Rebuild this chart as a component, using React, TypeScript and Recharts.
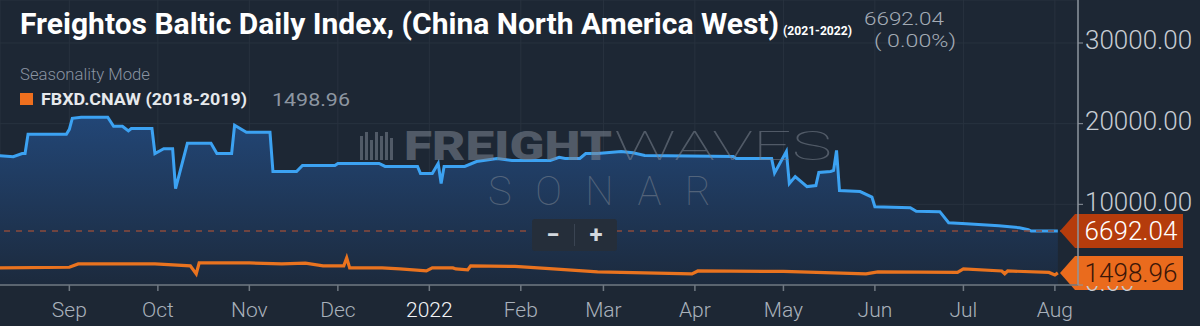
// Freightos Baltic Daily Index (China - North America West), seasonality view
import React from 'react';
import {
  ComposedChart,
  Area,
  Line,
  XAxis,
  YAxis,
  CartesianGrid,
  ReferenceLine,
} from 'recharts';

// 2021-2022 series (blue area)
const currentDates = [
  '2021-08-08', '2021-08-13', '2021-08-16', '2021-08-17', '2021-08-18', '2021-08-31',
  '2021-09-01', '2021-09-02', '2021-09-05', '2021-09-14', '2021-09-16', '2021-09-19',
  '2021-09-21', '2021-09-22', '2021-09-29', '2021-09-30', '2021-10-03', '2021-10-06',
  '2021-10-07', '2021-10-11', '2021-10-19', '2021-10-21', '2021-10-26', '2021-10-27',
  '2021-10-31', '2021-11-08', '2021-11-09', '2021-11-17', '2021-11-19', '2021-11-30',
  '2021-12-01', '2021-12-15', '2021-12-17', '2021-12-28', '2021-12-29', '2022-01-02',
  '2022-01-04', '2022-01-05', '2022-01-06', '2022-01-13', '2022-01-17', '2022-01-24',
  '2022-01-29', '2022-02-11', '2022-02-14', '2022-02-16', '2022-02-21', '2022-02-23',
  '2022-02-27', '2022-03-07', '2022-03-11', '2022-03-15', '2022-04-14', '2022-04-15',
  '2022-04-27', '2022-04-28', '2022-05-02', '2022-05-03', '2022-05-05', '2022-05-09',
  '2022-05-12', '2022-05-13', '2022-05-17', '2022-05-18', '2022-05-19', '2022-05-20',
  '2022-05-27', '2022-05-31', '2022-06-01', '2022-06-13', '2022-06-15', '2022-06-23',
  '2022-06-26', '2022-07-02', '2022-07-13', '2022-07-20', '2022-07-23', '2022-07-24',
  '2022-08-02',
];
const currentValues = [
  16050, 15900, 16300, 16300, 18680, 18680,
  19300, 20670, 20800, 20800, 19680, 19680,
  19100, 19400, 19400, 16300, 16900, 16900,
  11950, 17560, 17560, 16300, 16300, 19800,
  18930, 18930, 14070, 14070, 14820, 14820,
  15070, 15070, 14700, 14700, 13820, 13820,
  15070, 12580, 14700, 14700, 15300, 15690,
  15440, 15440, 15820, 15690, 15690, 16300,
  16300, 16560, 16400, 16060, 15940, 15690,
  15690, 13900, 16560, 12580, 13450, 12200,
  12330, 13950, 14070, 14200, 16690, 11710,
  11580, 10900, 9710, 9590, 9150, 9090,
  7720, 7600, 7350, 7100, 6850, 6692.04,
  6692.04,
];

// 2018-2019 seasonal series (orange line)
const seasonalDates = [
  '2021-08-08', '2021-09-01', '2021-09-04', '2021-09-30', '2021-10-12', '2021-10-14',
  '2021-10-15', '2021-11-01', '2021-11-12', '2021-11-20', '2021-11-26', '2021-12-03',
  '2021-12-04', '2021-12-05', '2021-12-16', '2021-12-22', '2021-12-31', '2022-01-02',
  '2022-01-09', '2022-01-10', '2022-01-14', '2022-01-15', '2022-01-30', '2022-02-12',
  '2022-02-27', '2022-03-31', '2022-04-02', '2022-05-01', '2022-05-29', '2022-06-02',
  '2022-06-29', '2022-07-01', '2022-07-14', '2022-07-15', '2022-07-16', '2022-07-30',
  '2022-08-01', '2022-08-02',
];
const seasonalValues = [
  2117, 2200, 2615, 2615, 2366, 1370,
  2740, 2740, 2615, 2700, 2366, 2366,
  3360, 2117, 2117, 1990, 1740, 2117,
  2117, 1990, 1870, 2366, 2300, 1990,
  1620, 1370, 1740, 1680, 1370, 1620,
  1560, 1990, 1740, 1400, 1740, 1560,
  1245, 1498.96,
];

const monthTicks = [
  '2021-09-01', '2021-10-01', '2021-11-01', '2021-12-01', '2022-01-01', '2022-02-01',
  '2022-03-01', '2022-04-01', '2022-05-01', '2022-06-01', '2022-07-01', '2022-08-01',
];
const monthLabels = ['Sep', 'Oct', 'Nov', 'Dec', '2022', 'Feb', 'Mar', 'Apr', 'May', 'Jun', 'Jul', 'Aug'];
const yTicks = [0, 10000, 20000, 30000];

const lastCurrent = 6692.04;
const lastSeasonal = 1498.96;

const toTime = (d: string) => new Date(d + 'T00:00:00Z').getTime();

const currentData = currentDates.map((d, i) => ({ t: toTime(d), value: currentValues[i] }));
const seasonalData = seasonalDates.map((d, i) => ({ t: toTime(d), value: seasonalValues[i] }));
const tickTimes = monthTicks.map(toTime);
const xDomain = [Date.UTC(2021, 7, 8, 12), Date.UTC(2022, 7, 8, 20)];

const FONT = 'Roboto, "Noto Sans", sans-serif';

// Tag drawn at the right edge for last values
const PriceTag = (props: any) => {
  const { viewBox, text, fill, color } = props;
  if (!viewBox) return null;
  const y = viewBox.y;
  const edge = viewBox.x + viewBox.width;
  const tip = edge - 18;
  const left = edge - 3;
  const right = edge + 105;
  const h = 17;
  return (
    <g>
      <path
        d={`M${tip},${y} L${left},${y - h} L${right},${y - h} L${right},${y + h} L${left},${y + h} Z`}
        fill={fill}
      />
      <text
        x={(left + right) / 2 + 2}
        y={y}
        dy="0.36em"
        textAnchor="middle"
        fill={color}
        fontSize={26}
        fontWeight={300}
        fontFamily={FONT}
      >
        {text}
      </text>
    </g>
  );
};

const XTick = (props: any) => {
  const { x, y, payload } = props;
  const idx = tickTimes.indexOf(payload.value);
  const label = monthLabels[idx] ?? '';
  const isYear = label === '2022';
  return (
    <text
      x={x}
      y={y}
      dy="0.71em"
      textAnchor="middle"
      fill={isYear ? '#f2f4f6' : '#a9b1bb'}
      fontSize={21}
      fontWeight={300}
      fontFamily={FONT}
    >
      {label}
    </text>
  );
};

// the 0.00 label sits under the seasonal tag, so only its lower part shows
const YTick = (props: any) => {
  const { x, y, payload } = props;
  const isZero = Number(payload.value) === 0;
  return (
    <g>
      {isZero && (
        <defs>
          <clipPath id="zeroClip">
            <rect x={x - 10} y={y + 1} width={140} height={40} />
          </clipPath>
        </defs>
      )}
      <text
        x={x}
        y={y - 3}
        dy="0.36em"
        textAnchor="start"
        fill="#c6ccd3"
        fontSize={26}
        fontWeight={300}
        fontFamily={FONT}
        clipPath={isZero ? 'url(#zeroClip)' : undefined}
      >
        {Number(payload.value).toFixed(2)}
      </text>
    </g>
  );
};

const App = () => {
  return (
    <div
      style={{
        position: 'absolute',
        left: 0,
        top: 0,
        width: 1200,
        height: 326,
        background: '#1d2734',
        overflow: 'hidden',
        fontFamily: FONT,
      }}
    >
      <style>{'body{margin:0;background:#1d2734}'}</style>
      <ComposedChart width={1200} height={326} margin={{ top: 0, right: 0, bottom: 0, left: 0 }}>
        <defs>
          <linearGradient id="blueFill" x1="0" y1="0" x2="0" y2="1">
            <stop offset="0%" stopColor="#224676" />
            <stop offset="100%" stopColor="#1c2a3d" />
          </linearGradient>
        </defs>
        <CartesianGrid stroke="#28323f" vertical horizontal />
        <XAxis
          dataKey="t"
          type="number"
          domain={xDomain}
          ticks={tickTimes}
          interval={0}
          height={41}
          allowDataOverflow
          tick={<XTick />}
          tickSize={6}
          tickMargin={11}
          axisLine={{ stroke: '#6f7882', strokeWidth: 1.5 }}
          tickLine={{ stroke: '#6f7882', strokeWidth: 1.5 }}
        />
        <YAxis
          orientation="right"
          type="number"
          domain={[0, 35330]}
          ticks={yTicks}
          interval={0}
          width={122}
          allowDataOverflow
          tick={<YTick />}
          tickSize={5}
          tickMargin={2}
          axisLine={{ stroke: '#8d959e', strokeWidth: 1.5 }}
          tickLine={{ stroke: '#8d959e' }}
        />
        <Area
          data={currentData}
          dataKey="value"
          type="linear"
          stroke="#3ca2f2"
          strokeWidth={3}
          fill="url(#blueFill)"
          fillOpacity={1}
          dot={false}
          activeDot={false}
          isAnimationActive={false}
        />
        <Line
          data={seasonalData}
          dataKey="value"
          type="linear"
          stroke="#e9731f"
          strokeWidth={3.2}
          dot={false}
          activeDot={false}
          isAnimationActive={false}
        />
        <ReferenceLine
          y={lastCurrent}
          stroke="#8a4b3c"
          strokeDasharray="6 6"
          strokeWidth={1.5}
          label={<PriceTag text={lastCurrent.toFixed(2)} fill="#b53c0c" color="#ffffff" />}
        />
        <ReferenceLine
          y={lastSeasonal}
          stroke="none"
          strokeOpacity={0}
          label={<PriceTag text={lastSeasonal.toFixed(2)} fill="#ea6b1d" color="#3a1608" />}
        />
      </ComposedChart>

      {/* header, legend and watermark */}
      <svg
        width={1200}
        height={326}
        style={{ position: 'absolute', left: 0, top: 0, pointerEvents: 'none' }}
      >
        <g opacity={0.55} fill="#7c8591">
          <rect x={360} y={136} width={3} height={24} />
          <rect x={365} y={132} width={3} height={28} />
          <rect x={370} y={140} width={3} height={20} />
          <rect x={375} y={132} width={3} height={28} />
          <rect x={380} y={136} width={3} height={24} />
          <rect x={385} y={132} width={3} height={28} />
          <rect x={390} y={138} width={3} height={22} />
          <text x={404} y={160} fontSize={40} fontWeight={900} textLength={208} lengthAdjust="spacingAndGlyphs" fontFamily={FONT}>
            FREIGHT
          </text>
          <text x={614} y={160} fontSize={40} fontWeight={100} textLength={218} lengthAdjust="spacingAndGlyphs" fontFamily={FONT}>
            WAVES
          </text>
          <text x={488} y={205} fontSize={40} fontWeight={100} textLength={223} lengthAdjust="spacing" fontFamily={FONT}>
            SONAR
          </text>
        </g>

        <text x={20} y={34} fill="#ffffff" fontSize={29} fontWeight={700} textLength={759} lengthAdjust="spacingAndGlyphs" fontFamily={FONT}>
          Freightos Baltic Daily Index, (China North America West)
        </text>
        <text x={783} y={35} fill="#ffffff" fontSize={13} fontWeight={700} textLength={69} lengthAdjust="spacingAndGlyphs" fontFamily={FONT}>
          (2021-2022)
        </text>
        <text x={864} y={25} fill="#a3abb5" fontSize={19} fontWeight={300} textLength={80} lengthAdjust="spacingAndGlyphs" fontFamily={FONT}>
          6692.04
        </text>
        <text x={874} y={47} fill="#a3abb5" fontSize={19} fontWeight={300} textLength={82} lengthAdjust="spacingAndGlyphs" fontFamily={FONT}>
          ( 0.00%)
        </text>
        <text x={20} y={80} fill="#8a94a2" fontSize={16} fontWeight={300} textLength={130} lengthAdjust="spacingAndGlyphs" fontFamily={FONT}>
          Seasonality Mode
        </text>
        <rect x={20} y={93} width={13} height={12} fill="#ee6f1e" />
        <text x={41} y={105} fill="#e6e9ec" fontSize={17} fontWeight={700} textLength={206} lengthAdjust="spacingAndGlyphs" fontFamily={FONT}>
          FBXD.CNAW (2018-2019)
        </text>
        <text x={272} y={106} fill="#8d96a1" fontSize={19} fontWeight={400} textLength={78} lengthAdjust="spacingAndGlyphs" fontFamily={FONT}>
          1498.96
        </text>
      </svg>

      {/* zoom control */}
      <div
        style={{
          position: 'absolute',
          left: 532,
          top: 219,
          width: 85,
          height: 32,
          background: '#252e3a',
          borderRadius: 3,
          display: 'flex',
          alignItems: 'center',
          color: '#d3d8de',
          fontSize: 24,
          fontWeight: 700,
          fontFamily: FONT,
        }}
      >
        <span style={{ flex: 1, textAlign: 'center' }}>−</span>
        <span style={{ width: 1, height: 22, background: '#3a4452' }} />
        <span style={{ flex: 1, textAlign: 'center' }}>+</span>
      </div>
    </div>
  );
};

export default App;
